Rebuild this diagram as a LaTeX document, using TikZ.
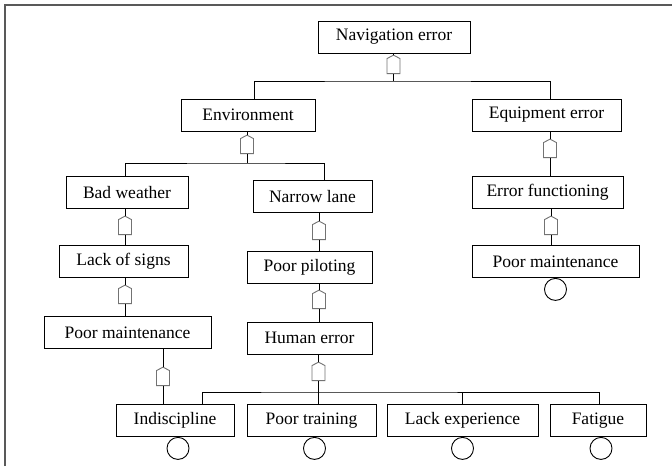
\documentclass[tikz,border=0pt]{standalone}
\usepackage{fontspec}
\setmainfont{Liberation Serif}
\usetikzlibrary{shapes.symbols}

\begin{document}
\begin{tikzpicture}[x=1pt,y=-1pt]
\tikzstyle{event}=[rectangle,draw,line width=0.9pt,minimum height=32pt,inner xsep=0pt,font=\fontsize{17.5}{20}\selectfont]
\tikzstyle{gate}=[signal,signal to=north,signal pointer angle=125,draw=black!55,line width=0.9pt,fill=white,minimum width=13pt,minimum height=15pt,inner sep=0pt,anchor=south]
\tikzstyle{basic}=[circle,draw,line width=0.9pt,minimum size=22pt,inner sep=0pt,anchor=north]
\tikzstyle{link}=[line width=0.9pt]

\useasboundingbox (0,0) rectangle (672,466);
\draw[black!65,line width=2pt] (5,466) -- (5,5) -- (672,5);

% events
\node[event,minimum width=152pt] (nav) at (394,37) {Navigation error};
\node[event,minimum width=134pt] (env) at (248,115) {Environment};
\node[event,minimum width=149pt] (equip) at (546.5,115) {Equipment error};
\node[event,minimum width=122pt] (weather) at (127,192.5) {Bad weather};
\node[event,minimum width=119pt] (lane) at (312.5,196.5) {Narrow lane};
\node[event,minimum width=151pt] (func) at (547.5,192.5) {Error functioning};
\node[event,minimum width=129pt] (signs) at (123.5,261.5) {Lack of signs};
\node[event,minimum width=125pt] (pilot) at (309.5,267) {Poor piloting};
\node[event,minimum width=167pt] (maintR) at (555.5,261.5) {Poor maintenance};
\node[event,minimum width=167pt] (maintL) at (127.5,332.5) {Poor maintenance};
\node[event,minimum width=125pt] (human) at (309.5,338) {Human error};
\node[event,minimum width=118pt] (indis) at (175,420.5) {Indiscipline};
\node[event,minimum width=129pt] (train) at (311.5,420.5) {Poor training};
\node[event,minimum width=151pt] (exper) at (462.5,420.5) {Lack experience};
\node[event,minimum width=96pt] (fatig) at (598,420.5) {Fatigue};

% gates
\node[gate] (g0) at (393.5,74) {};
\node[gate] (g1) at (247,154) {};
\node[gate] (g2) at (550,158) {};
\node[gate] (g3) at (125,235) {};
\node[gate] (g4) at (551,235) {};
\node[gate] (g5) at (125,304) {};
\node[gate] (g6) at (319,240) {};
\node[gate] (g7) at (319,309) {};
\node[gate] (g8) at (318.5,381) {};
\node[gate] (g9) at (163,386) {};

\coordinate (b0) at (393.5,81);
\coordinate (b1) at (247,163);
\coordinate (b2) at (318.5,392);

% basic events
\node[basic] (c0) at (maintR.south) {};
\foreach \n/\dx in {indis/3,train/3,exper/0,fatig/3}
  \node[basic] (c-\n) at ([xshift=\dx pt]\n.south) {};

% connectors
\draw[link] (g0.north) -- (g0.north |- nav.south);
\draw[link] (g0.south) -- (b0);
\draw[link] ([xshift=6pt]env.north) |- (b0) -| ([xshift=3.5pt]equip.north);

\draw[link] (g1.north) -- (g1.north |- env.south);
\draw[link] (g1.south) -- (b1);
\draw[link] ([xshift=-2pt]weather.north) |- (b1) -| ([xshift=11.5pt]lane.north);

\foreach \g/\a/\b in {g2/equip/func,g4/func/maintR,g3/weather/signs,g5/signs/maintL,
                      g6/lane/pilot,g7/pilot/human,g9/maintL/indis}
{
  \draw[link] (\g.north) -- (\g.north |- \a.south);
  \draw[link] (\g.south) -- (\g.south |- \b.north);
}

\draw[link] (g8.north) -- (g8.north |- human.south);
\draw[link] (g8.south) -- (g8.south |- train.north);
\draw[link] ([xshift=27pt]indis.north) |- (b2) -| ([xshift=1pt]fatig.north);
\draw[link] (b2 -| exper.north) -- (exper.north);
\end{tikzpicture}
\end{document}
